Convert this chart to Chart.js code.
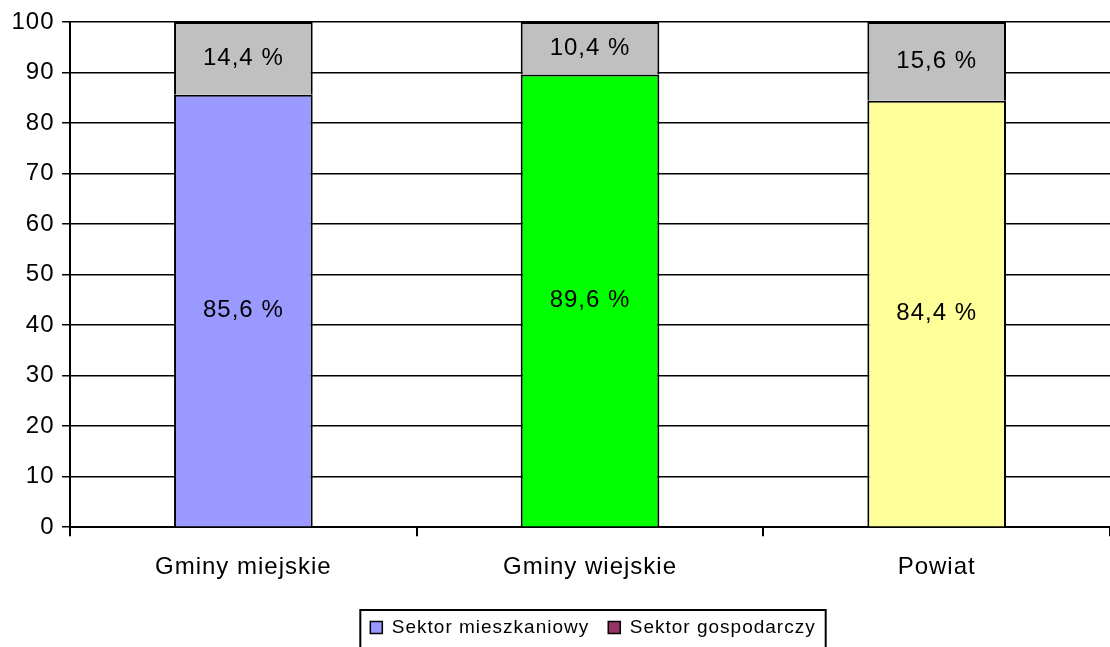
<!DOCTYPE html>
<html>
<head>
<meta charset="utf-8">
<script src="https://cdn.jsdelivr.net/npm/chart.js@4"></script>
<style>
  body { margin: 0; background: #fff; }
  #wrap { width: 1110px; height: 647px; }
</style>
</head>
<body>
<div id="wrap"><canvas id="chart"></canvas></div>
<script>
const categories = ["Gminy miejskie", "Gminy wiejskie", "Powiat"];
const mieszkaniowy = [85.6, 89.6, 84.4];
const gospodarczy = [14.4, 10.4, 15.6];
const seriesNames = ["Sektor mieszkaniowy", "Sektor gospodarczy"];
const yTicks = [0, 10, 20, 30, 40, 50, 60, 70, 80, 90, 100];

const barColors = ["#9999FF", "#00FF00", "#FFFF99"];
const legendColors = ["#9999FF", "#993366"];
const FONT = "'Liberation Sans', Arial, sans-serif";

// the original text is a bit spread out
const spacing = {
  id: "spacing",
  beforeUpdate(chart) { chart.ctx.letterSpacing = "1px"; },
  beforeDraw(chart) { chart.ctx.letterSpacing = "1px"; },
  // legend sits a little right of centre in the original
  afterLayout(chart) {
    chart.legend.left += 36;
    chart.legend.right += 36;
  },
};

// value labels in the middle of each segment
const segmentLabels = {
  id: "segmentLabels",
  afterDatasetsDraw(chart) {
    const ctx = chart.ctx;
    ctx.save();
    ctx.font = "24px " + FONT;
    ctx.fillStyle = "#000";
    ctx.textAlign = "center";
    ctx.textBaseline = "middle";
    chart.data.datasets.forEach((ds, i) => {
      chart.getDatasetMeta(i).data.forEach((bar, j) => {
        const y = (bar.y + bar.base) / 2;
        ctx.fillText(ds.data[j].toFixed(1).replace(".", ",") + " %", bar.x, y);
      });
    });
    ctx.restore();
  },
};

// box around the legend
const legendBox = {
  id: "legendBox",
  afterDraw(chart) {
    const boxes = chart.legend.legendHitBoxes;
    if (!boxes || !boxes.length) return;
    const left = Math.min(...boxes.map(b => b.left)) - 10;
    const right = Math.max(...boxes.map(b => b.left + b.width)) + 10;
    const top = Math.min(...boxes.map(b => b.top)) - 8;
    const ctx = chart.ctx;
    ctx.save();
    ctx.strokeStyle = "#000";
    ctx.lineWidth = 2;
    ctx.strokeRect(left, top, right - left, 60);
    ctx.restore();
  },
};

new Chart(document.getElementById("chart"), {
  type: "bar",
  data: {
    labels: categories,
    datasets: [
      {
        label: seriesNames[0],
        data: mieszkaniowy,
        backgroundColor: barColors,
        borderColor: "#000",
        borderWidth: 2,
        borderSkipped: "bottom",
      },
      {
        label: seriesNames[1],
        data: gospodarczy,
        backgroundColor: "#C0C0C0",
        borderColor: "#000",
        borderWidth: 2,
        borderSkipped: "bottom",
      },
    ],
  },
  options: {
    responsive: true,
    maintainAspectRatio: false,
    animation: false,
    datasets: {
      bar: { categoryPercentage: 1, barPercentage: 0.4 },
    },
    layout: { padding: { top: 10, right: 0, left: 4, bottom: 0 } },
    scales: {
      x: {
        stacked: true,
        border: { display: true, color: "#000", width: 2 },
        grid: { display: true, drawOnChartArea: false, color: "#000", lineWidth: 2, tickLength: 9, offset: true },
        ticks: { color: "#000", padding: 17, font: { family: FONT, size: 24 } },
      },
      y: {
        stacked: true,
        min: 0,
        max: 100,
        afterBuildTicks: axis => { axis.ticks = yTicks.map(v => ({ value: v })); },
        border: { display: true, color: "#000", width: 2 },
        grid: { color: "#000", lineWidth: 1.5, tickLength: 8 },
        ticks: { color: "#000", padding: 7.5, font: { family: FONT, size: 24 } },
      },
    },
    plugins: {
      legend: {
        position: "bottom",
        labels: {
          color: "#000",
          boxWidth: 12,
          boxHeight: 12,
          padding: 19,
          font: { family: FONT, size: 19 },
          generateLabels: () => seriesNames.map((name, i) => ({
            text: name,
            fillStyle: legendColors[i],
            strokeStyle: "#000",
            lineWidth: 1.5,
            datasetIndex: i,
          })),
        },
      },
      tooltip: { enabled: false },
    },
  },
  plugins: [spacing, segmentLabels, legendBox],
});
</script>
</body>
</html>
